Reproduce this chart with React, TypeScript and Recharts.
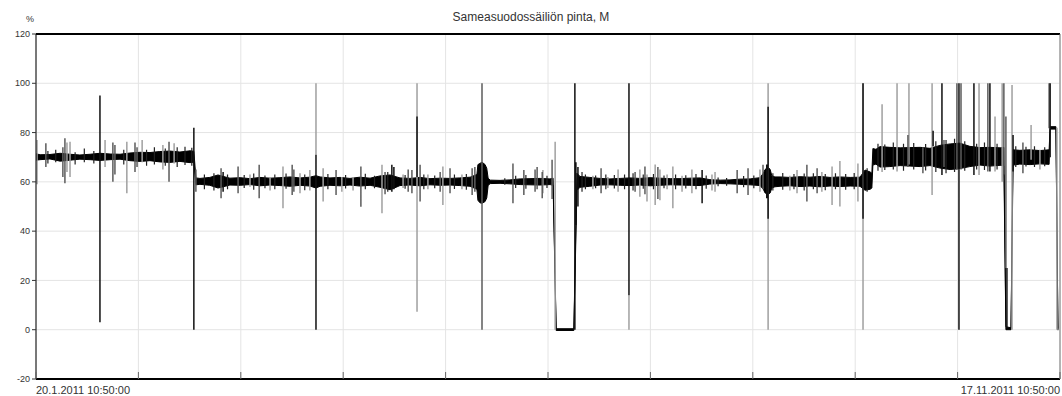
import { ComposedChart, Area, Line, XAxis, YAxis, CartesianGrid } from 'recharts';

// time axis in days from 20.1.2011 10:50:00 to 17.11.2011 10:50:00
const timeTicks = [0, 30.1, 60.2, 90.3, 120.4, 150.5, 180.6, 210.7, 240.8, 270.9, 301];
const timeTickLabels = ['20.1.2011 10:50:00', '', '', '', '', '', '', '', '', '', '17.11.2011 10:50:00'];
const levelTicks = [-20, 0, 20, 40, 60, 80, 100, 120];

// noise band of the level signal: [day, low, high]
const band: [number, number, number][] = [
  [0, 68.8, 71.4], [1.2, 69, 71], [4.1, 69.3, 71.1], [7.1, 68.4, 71.6], [10.0, 68.8, 71.2],
  [12.9, 69.2, 70.9], [15.9, 69, 71.2], [18.8, 68.7, 71.6], [21.8, 69, 71.3], [24.7, 69.2, 71.2],
  [27.6, 68.6, 71.7], [30.6, 68.3, 72], [33.5, 68.6, 71.9], [36.4, 68.1, 72.3], [39.4, 67.9, 72.5],
  [42.3, 68.3, 72.1], [45.3, 67.8, 72.6], [46.4, 68, 72.4],
  [47.0, 58.8, 61.6], [48.2, 59, 61.4], [51.1, 58.6, 61.8], [53.5, 57.5, 62.8], [55.6, 58.2, 62],
  [57.0, 58.7, 61.5], [60.0, 58.6, 61.7], [62.9, 58.9, 61.3], [65.8, 58.4, 61.8], [68.8, 58.7, 61.5],
  [71.7, 58.5, 61.7], [74.7, 58.2, 62], [77.6, 58.6, 61.6], [80.5, 58.3, 61.9], [82.3, 57.5, 62.5],
  [83.5, 58.2, 62], [86.4, 58.6, 61.6], [89.4, 58.4, 61.8], [92.3, 58.7, 61.4], [95.2, 58.3, 61.9],
  [98.2, 58.6, 61.5], [101.1, 57.8, 62.4], [104.1, 56.8, 62.8], [105.5, 57.6, 62.2], [107.0, 58.5, 61.6],
  [109.9, 58.7, 61.4], [112.9, 58.4, 61.8], [115.8, 58.8, 61.3], [118.8, 58.6, 61.5], [121.7, 58.7, 61.4],
  [124.6, 58.5, 61.6], [127.6, 58.2, 61.9], [129.6, 57, 63], [129.9, 52.5, 67], [130.5, 51.5, 67.5],
  [131.1, 51.3, 68], [132.0, 52, 67], [132.5, 53.5, 65.5], [132.9, 58.5, 61.5], [133.5, 59.3, 60.7],
  [136.4, 59.4, 60.6], [139.3, 59.2, 60.8], [142.3, 58.9, 61.2],
  [145.2, 58.8, 61.3], [148.2, 58.7, 61.4], [151.1, 58.9, 61.2], [152.0, 58.6, 61.5],
  [152.9, -0.3, 0.4], [158.1, -0.3, 0.4],
  [159.0, 56.5, 63.5], [159.9, 57.8, 62.2], [162.8, 58.2, 61.8], [165.8, 58.7, 61.4], [168.7, 58.8, 61.2],
  [171.7, 58.6, 61.4], [174.6, 58.5, 61.6], [177.5, 58.7, 61.4], [180.5, 58.4, 61.7], [183.4, 58.6, 61.5],
  [186.4, 58.8, 61.3], [189.3, 58.7, 61.3], [192.2, 58.6, 61.5], [195.2, 58.5, 61.6], [198.1, 59.1, 60.9],
  [201.1, 59.3, 60.7], [204.0, 59.2, 60.8], [206.9, 59, 61.1], [209.9, 58.8, 61.2], [212.8, 58.5, 61.7],
  [213.8, 57, 63.5], [214.3, 55.5, 65], [215.2, 55, 66], [215.8, 55.5, 65], [216.3, 57.5, 62.5],
  [217.2, 58, 62], [218.7, 58.2, 62],
  [221.6, 58.4, 61.8], [224.6, 58.1, 62.1], [227.5, 58.3, 61.9], [230.5, 58, 62.2], [233.4, 58.3, 61.8],
  [236.3, 58.1, 62], [239.3, 58.3, 61.8], [242.2, 58.2, 61.9], [243.7, 56.6, 64.8], [245.2, 57, 64],
  [245.7, 57.5, 63.5],
  [246.0, 66.8, 73.5], [246.9, 67.2, 73.2], [248.1, 66, 74.3], [251.0, 66.2, 74], [254.0, 66.6, 73.8],
  [256.9, 66.4, 73.9], [259.9, 66.2, 74], [262.8, 66.6, 73.6], [265.7, 65.6, 74.8], [268.7, 65, 75.4],
  [271.6, 65.4, 75.7], [274.5, 66.2, 74.4], [277.5, 66.8, 73.9], [280.4, 66.4, 74], [283.4, 66.7, 73.8],
  [284.5, 66.5, 74], [285.1, 0, 1.2], [286.6, 0, 0.8],
  [287.2, 66.8, 73], [289.2, 67.2, 72.8], [292.2, 67, 73], [295.1, 67.3, 72.7], [297.8, 67.1, 73],
  [298.1, 81.4, 82.4], [299.8, 81.4, 82.4], [300.4, -0.2, 0.4],
];

// single-sample excursions: [day, low, high]
const lightSpikes: [number, number, number][] = [
  [0.3, 59, 77], [9.1, 64, 76], [10.0, 62, 76.3], [20.3, 66, 77], [26.7, 55.4, 76.3],
  [31.2, 68, 77], [37.3, 65, 75], [40.6, 67.5, 75.7], [62.9, 58, 63], [68.8, 56.5, 62],
  [72.6, 49.3, 66.2], [77.6, 55.4, 63.5], [80.5, 56.5, 64.8], [82.3, 71, 100], [84.4, 52, 65.5],
  [89.9, 56, 62], [93.2, 56.5, 62], [101.7, 47.3, 66.9], [107.9, 57.5, 63], [112.0, 7.3, 100],
  [115.2, 57, 63], [119.6, 50.6, 66.2], [125.2, 57, 63], [149.0, 55.4, 64.8], [152.6, 0, 76.3],
  [163.7, 57, 62.5], [168.1, 57.5, 62], [171.1, 56, 65], [174.3, 0, 14], [177.5, 54, 65],
  [179.6, 52, 63], [182.0, 50.6, 67], [183.4, 52.5, 65], [185.5, 57, 63], [187.2, 49.3, 66.2],
  [189.9, 56, 62.5], [192.8, 55.4, 65], [198.7, 56.5, 63], [199.6, 56, 64], [212.8, 56, 65],
  [215.2, 0, 100], [221.6, 56.5, 62.5], [223.7, 55.4, 64.8], [231.0, 56, 64], [234.0, 50.6, 66.2],
  [236.3, 50, 68.5], [241.6, 52, 67.5], [243.1, 0, 100], [248.7, 64, 91.5], [253.1, 64.2, 100],
  [256.6, 67, 100], [263.4, 54.7, 100], [277.2, 62.8, 100], [281.9, 64.2, 86.5], [284.0, 60, 100],
  [286.9, 0, 99.3], [292.5, 69, 83.1], [295.1, 65, 73], [300.1, 0, 82],
];

const midSpikes: [number, number, number][] = [
  [2.9, 66, 75.7], [7.9, 62, 74], [8.5, 59.4, 77.7], [22.6, 60, 76], [23.2, 63, 75],
  [29.1, 64, 76], [29.7, 66, 74], [39.1, 60, 76.3], [47.0, 56, 65], [54.4, 53.3, 65.5],
  [59.4, 55.4, 66.2], [65.6, 53.3, 66.9], [75.3, 54.7, 66.9], [75.8, 56, 65], [88.2, 54.7, 64.8],
  [95.5, 49.9, 66.2], [102.6, 55, 64], [109.4, 56, 65], [110.5, 55.4, 64.8], [112.9, 52, 66.9],
  [118.8, 56, 64], [121.7, 55.4, 65.5], [128.2, 54.7, 65.5], [129.0, 56, 66], [131.1, 0, 100],
  [140.2, 51.3, 67.5], [143.4, 54.7, 64.8], [146.7, 56, 65], [147.3, 57, 66], [148.8, 53.3, 64],
  [151.7, 53, 69], [166.1, 55.4, 65.5], [176.1, 56, 64], [179.0, 55, 66.2], [182.8, 53, 66],
  [206.1, 55.4, 64.8], [209.3, 54.7, 65.5], [213.7, 57, 66.9], [226.6, 52, 66.9], [229.6, 55.4, 65.5],
  [256.3, 66, 79], [260.7, 63.5, 74], [266.9, 66, 77], [270.7, 64.8, 100], [271.9, 65, 100],
  [279.8, 64.2, 100], [284.5, 63, 100], [285.1, 25, 86.5], [290.1, 63.5, 76], [297.8, 81.8, 100],
];

const darkSpikes: [number, number, number][] = [
  [18.8, 3, 95], [46.4, 0, 82], [55.0, 56, 64], [82.3, 0, 71], [104.6, 56, 66.9],
  [105.2, 57, 66], [112.0, 62, 86.5], [158.4, 0, 100], [158.7, 42.5, 68], [159.3, 50, 66],
  [174.3, 14, 100], [195.8, 51.3, 64.8], [214.8, 53.3, 67], [215.2, 45, 90.5], [243.1, 45, 100],
  [263.7, 74.5, 80.7], [266.3, 62.8, 100], [271.3, 0, 100], [275.7, 62.8, 100], [280.4, 64.2, 100],
  [285.4, 0.5, 25], [287.2, 64.2, 79], [298.1, 70, 100],
];

// short noise just outside the band edges
const fuzz: [number, number, number][] = [
  [3.5, 67.5, 72.5], [5.8, 68, 73], [11.5, 67, 72], [14.2, 68, 73.5], [17.0, 67.5, 72.5],
  [25.8, 67, 73], [32.5, 66.5, 73], [34.8, 67, 74], [38.0, 66.5, 73.5], [41.5, 66, 74],
  [43.8, 66.8, 74.2], [45.8, 66.5, 73.8],
  [49.5, 57, 63], [52.3, 56.5, 63.5], [56.3, 57, 63], [61.2, 57.5, 62.8], [64.0, 56.8, 63.4],
  [67.3, 57.4, 62.6], [70.2, 57, 63], [73.5, 57.2, 63.4], [79.0, 56.6, 63], [85.8, 57, 63.2],
  [91.0, 57.3, 62.8], [96.8, 57, 63.3], [99.5, 57.4, 62.5], [103.4, 56, 64], [108.5, 57.2, 62.8],
  [114.0, 57, 63], [117.2, 57.4, 62.6], [123.0, 57.1, 63], [126.5, 56.8, 63.2], [137.8, 58.8, 61.5],
  [141.0, 57.5, 62.5], [144.0, 57.2, 62.8], [150.2, 57.5, 62.5],
  [160.5, 56, 64], [161.5, 57, 63], [164.5, 57.4, 62.6], [167.5, 57, 63], [170.0, 57.3, 62.8],
  [173.0, 57, 63], [175.5, 56.5, 63.5], [178.5, 57.2, 63], [181.5, 57, 63.2], [184.6, 57.4, 62.6],
  [188.0, 57, 63], [191.0, 57.3, 62.7], [194.0, 57, 63.2], [197.0, 57.2, 62.6], [200.5, 58.2, 61.8],
  [203.0, 58.4, 61.6], [208.0, 57.8, 62.4], [211.0, 57.4, 62.6], [216.6, 56.5, 63.5], [219.5, 56.8, 63.6],
  [222.8, 57, 63.2], [225.8, 56.5, 63.4], [228.5, 57, 63.5], [232.0, 56.6, 63.2], [235.0, 57, 63.5],
  [238.0, 56.8, 63.2], [240.5, 57, 63.6], [244.3, 56, 65.5],
  [247.5, 64.5, 75.5], [249.5, 64.8, 75.2], [252.0, 65, 76], [255.0, 64.5, 75.5], [258.0, 65, 75.8],
  [261.5, 64.6, 75.4], [264.5, 64, 76.5], [267.5, 63.5, 77], [270.0, 64, 77.5], [273.0, 64.5, 76.5],
  [276.5, 65, 75.5], [278.8, 64.8, 76], [282.5, 65, 75.5], [288.0, 66, 74.5], [291.0, 66.2, 74.2],
  [293.5, 66, 74.5], [296.5, 66.3, 74],
];

const bandRows = band.map(([t, lo, hi]) => ({ t, band: [lo, hi] }));
const spikeRows = (list: [number, number, number][]) =>
  list.flatMap(([t, lo, hi]) => [{ t, v: lo }, { t, v: hi }, { t, v: null }]);

const FONT = '"Liberation Sans", Arial, sans-serif';

function TimeTick(props: any) {
  const { x, y, payload } = props;
  const i = timeTicks.indexOf(payload.value);
  const label = timeTickLabels[i] || '';
  return (
    <g>
      <line x1={x} y1={y} x2={x} y2={y - 7} stroke="#666" />
      {label && (
        <text x={x} y={y + 15} textAnchor={i === 0 ? 'start' : 'end'} fontSize={11} fill="#333" fontFamily={FONT}>
          {label}
        </text>
      )}
    </g>
  );
}

export default function App() {
  return (
    <div style={{ position: 'relative', width: 1062, height: 396, background: '#fff', fontFamily: FONT }}>
      <style>{'body{margin:0}'}</style>
      <div style={{ position: 'absolute', left: 0, width: 1062, top: 11, textAlign: 'center', fontSize: 12, lineHeight: '12px', color: '#333' }}>
        Sameasuodossäiliön pinta, M
      </div>
      <div style={{ position: 'absolute', left: 26, top: 15, fontSize: 9, lineHeight: '9px', color: '#333' }}>%</div>
      <ComposedChart width={1062} height={396} data={bandRows} margin={{ top: 34, right: 2, bottom: 0, left: 0 }}>
        <CartesianGrid stroke="#e4e4e4" />
        <XAxis
          type="number"
          dataKey="t"
          domain={[0, 301]}
          ticks={timeTicks}
          interval={0}
          allowDataOverflow
          height={17}
          tickSize={0}
          tickMargin={0}
          tickLine={false}
          axisLine={{ stroke: '#000', strokeWidth: 2 }}
          tick={<TimeTick />}
        />
        <XAxis
          xAxisId="top"
          orientation="top"
          mirror
          type="number"
          dataKey="t"
          domain={[0, 301]}
          ticks={timeTicks}
          interval={0}
          tick={false}
          tickSize={7}
          tickLine={{ stroke: '#666' }}
          axisLine={{ stroke: '#000', strokeWidth: 2 }}
        />
        <YAxis
          type="number"
          domain={[-20, 120]}
          ticks={levelTicks}
          interval={0}
          allowDataOverflow
          width={36}
          tickSize={4}
          tickMargin={2}
          tick={{ fontSize: 9, fill: '#333', fontFamily: FONT }}
          tickLine={{ stroke: '#333' }}
          axisLine={{ stroke: '#000' }}
        />
        <YAxis
          yAxisId="right"
          orientation="right"
          mirror
          type="number"
          domain={[-20, 120]}
          ticks={levelTicks}
          interval={0}
          tick={false}
          tickSize={6}
          tickLine={{ stroke: '#666' }}
          axisLine={{ stroke: '#777' }}
        />
        <Area
          type="linear"
          dataKey="band"
          stroke="#000"
          strokeWidth={1}
          fill="#000"
          fillOpacity={1}
          dot={false}
          activeDot={false}
          connectNulls
          isAnimationActive={false}
        />
        <Line data={spikeRows(lightSpikes)} dataKey="v" stroke="#a0a0a0" strokeWidth={1.5} dot={false} activeDot={false} isAnimationActive={false} />
        <Line data={spikeRows(midSpikes)} dataKey="v" stroke="#5c5c5c" strokeWidth={1.5} dot={false} activeDot={false} isAnimationActive={false} />
        <Line data={spikeRows(fuzz)} dataKey="v" stroke="#222" strokeWidth={1.2} dot={false} activeDot={false} isAnimationActive={false} />
        <Line data={spikeRows(darkSpikes)} dataKey="v" stroke="#111" strokeWidth={1.5} dot={false} activeDot={false} isAnimationActive={false} />
      </ComposedChart>
    </div>
  );
}
